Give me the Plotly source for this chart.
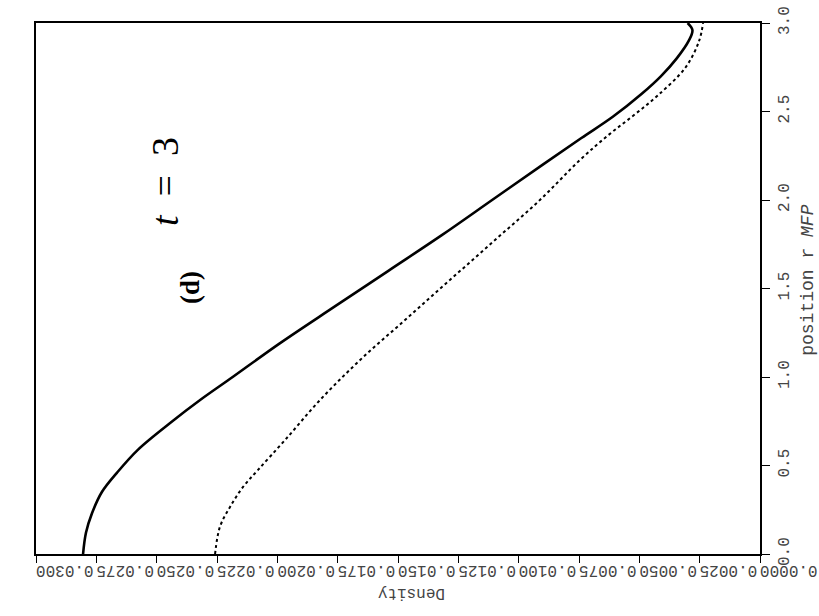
import plotly.graph_objects as go

# Radial density profiles at t = 3 (position in mean free paths)
solid_pos = [0.0, 0.12, 0.23, 0.35, 0.46, 0.59, 0.75, 0.87, 1.0, 1.19, 1.4, 1.6,
             1.8, 2.0, 2.2, 2.35, 2.47, 2.6, 2.7, 2.8, 2.9, 2.96, 3.0]
solid_den = [0.02805, 0.02793, 0.02768, 0.02727, 0.02664, 0.02577, 0.02435, 0.0232,
             0.02185, 0.0199, 0.0176, 0.0154, 0.0132, 0.0111, 0.0090, 0.0074, 0.0061,
             0.0049, 0.0041, 0.00345, 0.00295, 0.0028, 0.0030]

dotted_pos = [0.0, 0.153, 0.266, 0.379, 0.475, 0.644, 0.87, 1.096, 1.322, 1.548,
              1.774, 2.0, 2.226, 2.367, 2.48, 2.59, 2.75, 2.9, 3.0]
dotted_den = [0.02258, 0.02238, 0.02196, 0.02142, 0.0208, 0.01968, 0.01823, 0.01657,
              0.01471, 0.01285, 0.01098, 0.00912, 0.00746, 0.00628, 0.00522, 0.00424,
              0.00308, 0.00252, 0.00236]

density_ticks = [i * 0.0025 for i in range(13)]
density_labels = [f"{v:.4f}" for v in density_ticks]
pos_ticks = [0.0, 0.5, 1.0, 1.5, 2.0, 2.5, 3.0]
pos_labels = [f"{v:.1f}" for v in pos_ticks]

tick_font = dict(family="Liberation Mono", size=16, color="#444444")
title_font = dict(family="Liberation Mono", size=18, color="#444444")

fig = go.Figure()
fig.add_trace(go.Scatter(x=dotted_den, y=dotted_pos, mode="lines",
                         line=dict(color="black", width=2, dash="dot", shape="spline"),
                         showlegend=False))
fig.add_trace(go.Scatter(x=solid_den, y=solid_pos, mode="lines",
                         line=dict(color="black", width=2.6, shape="spline"),
                         showlegend=False))

fig.update_layout(
    width=819, height=616,
    margin=dict(l=36, r=59, t=23, b=62, autoexpand=False),
    paper_bgcolor="white", plot_bgcolor="white",
    xaxis=dict(range=[0.03, 0.0], tickvals=density_ticks, ticktext=density_labels,
               tickangle=180, tickfont=tick_font, ticks="outside", ticklen=7,
               tickcolor="black", tickwidth=1.2, showline=True, linecolor="black",
               linewidth=1.5, mirror=True, showgrid=False, zeroline=False,
               automargin=False),
    yaxis=dict(range=[0.0, 3.0], side="right", tickvals=pos_ticks, ticktext=pos_labels,
               tickangle=-90, tickfont=tick_font, ticks="outside", ticklen=8,
               tickcolor="black", tickwidth=1.2, showline=True, linecolor="black",
               linewidth=1.5, mirror=True, showgrid=False, zeroline=False,
               automargin=False),
)

fig.add_annotation(text="Density", xref="paper", yref="paper", x=0.518, y=-0.073,
                   xanchor="center", yanchor="middle",
                   textangle=180, showarrow=False, font=tick_font)
fig.add_annotation(text="position r <i>MFP</i>", xref="paper", yref="paper",
                   x=1.066, y=0.516, xanchor="center", yanchor="middle",
                   textangle=-90, showarrow=False, font=title_font)
fig.add_annotation(text="<b>(d)</b>", xref="paper", yref="paper", x=0.2127, y=0.503,
                   xanchor="center", yanchor="middle",
                   textangle=-90, showarrow=False,
                   font=dict(family="Liberation Serif", size=27, color="black"))
fig.add_annotation(text="<i>t</i>\u2002=\u20023", xref="paper", yref="paper",
                   x=0.178, y=0.702, xanchor="center", yanchor="middle",
                   textangle=-90, showarrow=False,
                   font=dict(family="Liberation Serif", size=38, color="black"))

fig.write_html("out.html")
